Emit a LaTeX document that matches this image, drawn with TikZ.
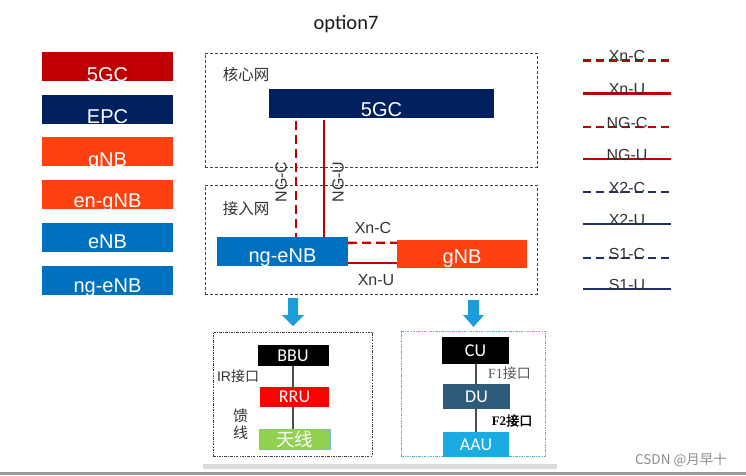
\documentclass[tikz,border=0pt]{standalone}
\usepackage{fontspec}
\setmainfont{Liberation Sans}
\newfontfamily\cjk{Noto Sans CJK SC}
\newfontfamily\cjkb[FakeBold=2]{Noto Sans CJK SC}
\newfontfamily\calib{Carlito}
\newfontfamily\tms{Liberation Serif}
\usetikzlibrary{calc}
\definecolor{cfivegc}{HTML}{C00000}
\definecolor{cepc}{HTML}{002060}
\definecolor{cgnb}{HTML}{FF4010}
\definecolor{cenb}{HTML}{0070C0}
\definecolor{cdu}{HTML}{2F5B7A}
\definecolor{caau}{HTML}{1AABE3}
\definecolor{cant}{HTML}{92D050}
\definecolor{crru}{HTML}{FF0000}
\definecolor{carrow}{HTML}{1B9DD9}
\definecolor{cbluebox}{HTML}{5BB0D0}
\definecolor{ctxt}{HTML}{333333}
\definecolor{clegnavy}{HTML}{1F3068}
\begin{document}
\begin{tikzpicture}[x=1pt,y=-1pt,
  blk/.style={inner sep=0pt, outer sep=0pt, draw=none, text=white},
  big/.style={font=\fontsize{20}{20}\selectfont},
  th/.style={text height=#1, text depth=0pt},
  small/.style={font=\calib\fontsize{18}{18}\selectfont, text height=11.6pt, text depth=0pt},
  lbl/.style={text=ctxt, inner sep=0pt, font=\fontsize{16}{16}\selectfont},
  cjklbl/.style={text=ctxt, inner sep=0pt, font=\cjk\fontsize{15.5}{15.5}\selectfont},
  redline/.style={draw=cfivegc, line width=2.8pt},
  navyline/.style={draw=clegnavy, line width=2.8pt},
  legdash/.style={dash pattern=on 8pt off 5pt},
  netbox/.style={draw=black!75, line width=0.9pt, dash pattern=on 3pt off 2pt},
  conn/.style={draw=black!70, line width=2pt}
]
\useasboundingbox (0,0) rectangle (746,475);

% title
\node[inner sep=0pt, text=black!90, font=\calib\fontsize{20.5}{20.5}\selectfont] (title) at (346,24) {option7};

% left legend boxes
\node[blk, big, fill=cfivegc, minimum width=131pt, minimum height=29pt, th=29pt] (L1) at (107.5,66.5) {5GC};
\node[blk, big, fill=cepc, minimum width=131pt, minimum height=29pt, th=27pt] (L2) at (107.5,109.5) {EPC};
\node[blk, big, fill=cgnb, minimum width=131pt, minimum height=29pt, th=29pt] (L3) at (107.5,151.5) {gNB};
\node[blk, big, fill=cgnb, minimum width=131pt, minimum height=29pt, th=26.6pt] (L4) at (107.5,194.5) {en-gNB};
\node[blk, big, fill=cenb, minimum width=131pt, minimum height=29pt, th=21pt] (L5) at (107.5,237.5) {eNB};
\node[blk, big, fill=cenb, minimum width=131pt, minimum height=29pt, th=24pt] (L6) at (107.5,280) {ng-eNB};

% core network box
\node[netbox, inner sep=0pt, minimum width=332pt, minimum height=114pt] (core) at (371,110) {};
\node[cjklbl] (corelbl) at (246,75) {核心网};
\node[blk, big, fill=cepc, minimum width=225pt, minimum height=29pt, th=26pt] (fivegc) at (381.5,103.5) {5GC};

% access network box
\node[netbox, inner sep=0pt, minimum width=332pt, minimum height=109pt] (access) at (371,239.5) {};
\node[cjklbl] (acclbl) at (246,209) {接入网};
\node[blk, big, fill=cenb, minimum width=131pt, minimum height=29pt, th=22.6pt] (ngenb) at (282.5,251.5) {ng-eNB};
\node[blk, big, fill=cgnb, minimum width=130pt, minimum height=28pt, th=19pt] (gnb) at (462,254) {gNB};

% NG interfaces
\coordinate (ngcTop) at (296,121);
\coordinate (nguTop) at (324,120);
\draw[redline, dash pattern=on 9pt off 5pt] (ngcTop) -- (ngcTop |- ngenb.north);
\draw[redline] (nguTop) -- (nguTop |- ngenb.north);
\node[lbl, rotate=90] (ngclbl) at (281,182) {NG-C};
\node[lbl, rotate=90] (ngulbl) at (338,182) {NG-U};

% Xn interfaces
\draw[draw=cfivegc, line width=2.4pt, dash pattern=on 9pt off 5pt] ($(ngenb.east)+(0,-8.7)$) -- ($(gnb.west)+(0,-11.3)$);
\draw[draw=cfivegc, line width=2.4pt] ($(ngenb.east)+(0,11.5)$) -- ($(gnb.west)+(0,9)$);
\node[lbl] (xnclbl) at (373,228) {Xn-C};
\node[lbl] (xnulbl) at (376,280) {Xn-U};

% right legend
\foreach \y/\t/\s/\d in {60.7/Xn-C/redline/1, 93.3/Xn-U/redline/0, 127/NG-C/redline/1, 159/NG-U/redline/0, 192/X2-C/navyline/1, 224/X2-U/navyline/0, 258/S1-C/navyline/1, 289/S1-U/navyline/0}{
  \coordinate (la\t) at (583,\y);
  \coordinate (lb\t) at (671,\y);
  \ifnum\d=1
    \draw[\s, legdash] (la\t) -- (lb\t);
  \else
    \draw[\s] (la\t) -- (lb\t);
  \fi
  \node[lbl, anchor=base] (lt\t) at ($(la\t)!0.5!(lb\t)+(0,1)$) {\t};
}

% blue arrows
\fill[carrow] (288,298) -- (298,298) -- (298,315) -- (304,315) -- (293,326) -- (282,315) -- (288,315) -- cycle;
\fill[carrow] (468,300) -- (479,300) -- (479,315) -- (484,315) -- (473.5,327) -- (463,315) -- (468,315) -- cycle;

% bottom left box
\node[inner sep=0pt, draw=black!75, line width=0.8pt, dash pattern=on 2.5pt off 1.2pt on 0.8pt off 1.2pt, minimum width=159pt, minimum height=124pt] (lbox) at (292.5,394) {};
\node[blk, small, fill=black, minimum width=71pt, minimum height=21pt] (bbu) at (293,355.5) {BBU};
\node[blk, small, fill=crru, minimum width=69pt, minimum height=20pt] (rru) at (294.5,396.7) {RRU};
\node[blk, fill=cant, draw=cenb!50, line width=0.5pt, minimum width=71pt, minimum height=20pt, font=\cjk\fontsize{18.5}{18.5}\selectfont] (ant) at (294.5,439) {天线};
\draw[conn] (bbu.south) -- (bbu.south |- rru.north);
\draw[conn] ($(rru.south)+(-1.5,0)$) -- ($(rru.south |- ant.north)+(-1.5,0)$);
\node[text=ctxt, inner sep=0pt, font=\fontsize{14}{14}\selectfont] (irlbl) at (238,376) {IR{\cjk 接口}};
\node[text=ctxt, inner sep=0pt, font=\cjk\fontsize{15}{15}\selectfont] (kui) at (240.5,416) {馈};
\node[text=ctxt, inner sep=0pt, font=\cjk\fontsize{15}{15}\selectfont] (xian) at (240.5,433) {线};

% bottom right box
\node[inner sep=0pt, draw=cbluebox, line width=0.8pt, dash pattern=on 2.5pt off 1.2pt on 0.8pt off 1.2pt, minimum width=144pt, minimum height=125pt] (rbox) at (473,393.5) {};
\node[blk, small, fill=black, minimum width=67pt, minimum height=27pt] (cu) at (475.5,350.5) {CU};
\node[blk, small, fill=cdu, minimum width=67pt, minimum height=25pt] (du) at (476.5,396.5) {DU};
\node[blk, small, fill=caau, minimum width=66pt, minimum height=25pt] (aau) at (476,444.5) {AAU};
\draw[conn] (476,364) coordinate (cuB) -- (cuB |- du.north);
\draw[conn] (476,409) coordinate (duB) -- (duB |- aau.north);
\node[text=black!65, inner sep=0pt, font=\fontsize{14}{14}\selectfont] (f1lbl) at (509.5,373) {{\tms F1}{\cjk 接口}};
\node[text=black, inner sep=0pt, font=\fontsize{13}{13}\selectfont] (f2lbl) at (512,420.5) {{\tms\bfseries F2}{\cjkb 接口}};

% bottom bars
\fill[black!14] (203,464) rectangle (557,469);
\fill[black!40] (0,472) rectangle (746,474.5);
\node[text=black!45, inner sep=0pt, font=\cjk\fontsize{13.5}{13.5}\selectfont] (csdn) at (681,460) {CSDN @月早十};
\end{tikzpicture}
\end{document}
